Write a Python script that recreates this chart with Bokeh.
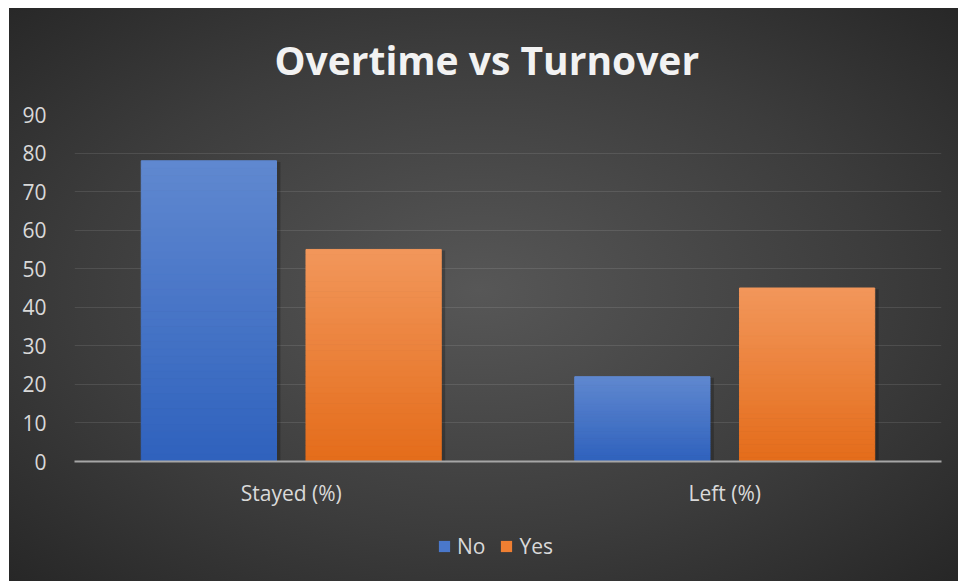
from bokeh.plotting import figure
from bokeh.models import (ColumnDataSource, FactorRange, Range1d, FixedTicker, Legend,
                          LegendItem)
from bokeh.layouts import column
from bokeh.transform import dodge
from bokeh.embed import file_html
from bokeh.resources import INLINE

# ---- data ----
categories = ["Stayed (%)", "Left (%)"]
series_names = ["No", "Yes"]
no_values = [78, 22]
yes_values = [55, 45]
y_ticks = [0, 10, 20, 30, 40, 50, 60, 70, 80, 90]

# ---- styles ----
FONT = "Open Sans"
TXT = "#d9d9d9"
grad = {
    "No": ("#2f62bd", "#6088d0"),   # bottom, top
    "Yes": ("#e46c1a", "#f2975b"),
}
legend_colors = {"No": "#4a78cb", "Yes": "#ef7f32"}
offsets = {"No": -0.19, "Yes": 0.19}
BAR_W = 0.312
N = 40


def hex2rgb(h):
    h = h.lstrip("#")
    return tuple(int(h[i:i + 2], 16) for i in (0, 2, 4))


def mix(c1, c2, t):
    a, b = hex2rgb(c1), hex2rgb(c2)
    return "#%02x%02x%02x" % tuple(round(a[i] + (b[i] - a[i]) * t) for i in range(3))


bg = ("linear-gradient(#ffffff,#ffffff) left top / 9px 100% no-repeat, "
      "linear-gradient(#ffffff,#ffffff) left top / 100% 8px no-repeat, "
      "radial-gradient(ellipse 70% 70% at 50% 50%, #575757 0%, #3c3c3c 60%, #272727 100%)")

p = figure(width=958, height=522, x_range=FactorRange(*categories, range_padding=0),
           y_range=Range1d(0, 90), output_backend="svg", toolbar_location=None,
           min_border_left=74, min_border_right=17, min_border_top=114, min_border_bottom=61)
p.background_fill_alpha = 0
p.border_fill_alpha = 0
p.outline_line_color = None

p.title.text = "Overtime vs Turnover"
p.title.text_font = FONT
p.title.text_font_size = "39px"
p.title.text_font_style = "bold"
p.title.text_color = "#f2f2f2"
p.title.align = "left"
p.title.standoff = 58
p.title.offset = 200

# shadows
for name, vals in (("No", no_values), ("Yes", yes_values)):
    src = ColumnDataSource(dict(cat=categories, top=[v - 0.3 for v in vals]))
    p.vbar(x=dodge("cat", offsets[name] + 0.007, range=p.x_range), top="top", bottom=-1.5,
           width=BAR_W + 0.004, source=src, fill_color="black", fill_alpha=0.22, line_color=None)

for name, vals in (("No", no_values), ("Yes", yes_values)):
    cats, bots, tops, cols = [], [], [], []
    for c, v in zip(categories, vals):
        for i in range(N):
            cats.append(c)
            bots.append(v * i / N)
            tops.append(v * (i + 1) / N)
            cols.append(mix(grad[name][0], grad[name][1], (i + 0.5) / N))
    src = ColumnDataSource(dict(cat=cats, bottom=bots, top=tops, color=cols))
    p.vbar(x=dodge("cat", offsets[name], range=p.x_range), top="top", bottom="bottom",
           width=BAR_W, source=src, fill_color="color", line_color="color", line_width=1)

# axes
p.yaxis.ticker = FixedTicker(ticks=y_ticks)
p.yaxis.axis_line_color = None
p.yaxis.major_tick_line_color = None
p.yaxis.minor_tick_line_color = None
p.yaxis.major_label_text_color = TXT
p.yaxis.major_label_text_font = FONT
p.yaxis.major_label_text_font_size = "21px"
p.yaxis.major_label_standoff = 22

p.xaxis.axis_line_color = "#a6a6a6"
p.xaxis.axis_line_width = 2
p.xaxis.major_tick_line_color = None
p.xaxis.minor_tick_line_color = None
p.xaxis.major_label_text_color = TXT
p.xaxis.major_label_text_font = FONT
p.xaxis.major_label_text_font_size = "21px"
p.xaxis.major_label_standoff = 11

p.xgrid.grid_line_color = None
p.ygrid.grid_line_color = "#ffffff"
p.ygrid.grid_line_alpha = 0.1
p.ygrid.grid_line_width = 1

# ---- legend strip (separate figure, same background) ----
lg = figure(width=958, height=59, x_range=Range1d(0, 1), y_range=Range1d(0, 1),
            output_backend="svg", toolbar_location=None,
            min_border_left=0, min_border_right=0, min_border_top=0, min_border_bottom=0)
lg.axis.visible = False
lg.grid.visible = False
lg.background_fill_alpha = 0
lg.border_fill_alpha = 0
lg.outline_line_color = None
stub = {}
for name in series_names:
    # legend key renderers with zero area (only their swatch is shown in the legend)
    stub[name] = lg.vbar(x=[-5], top=[-5], bottom=[-5], width=0.0,
                         fill_color=legend_colors[name], line_color=None)

legend = Legend(items=[LegendItem(label=n, renderers=[stub[n]]) for n in series_names],
                orientation="horizontal", location=(363, 21))
legend.background_fill_alpha = 0
legend.border_line_color = None
legend.label_text_color = TXT
legend.label_text_font = FONT
legend.label_text_font_size = "21px"
legend.glyph_width = 14
legend.glyph_height = 14
legend.label_standoff = 6
legend.spacing = 14
legend.padding = 0
legend.margin = 0
lg.add_layout(legend, "center")

layout = column(p, lg, spacing=0)
layout.styles = {"background": bg}

open("out.html", "w").write(file_html(layout, INLINE))
